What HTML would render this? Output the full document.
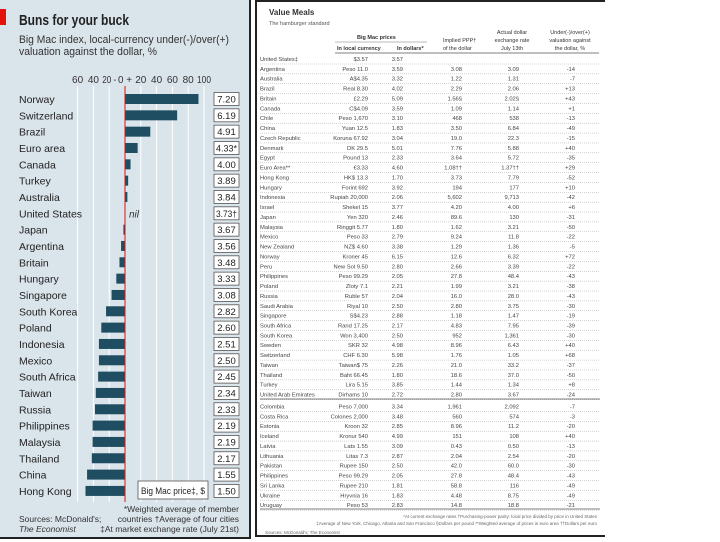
<!DOCTYPE html>
<html><head><meta charset="utf-8">
<style>
body{margin:0;width:720px;height:540px;background:#fff;position:relative;overflow:hidden;font-family:"Liberation Sans",sans-serif}
#left{position:absolute;left:0;top:0;width:249px;height:537px;background:#dae4eb;border-right:2px solid #222;border-bottom:2px solid #222}
#right{position:absolute;left:255px;top:0;width:350px;height:537px;background:#fff;border-left:2px solid #222;border-top:2px solid #222;border-bottom:2px solid #222;box-sizing:border-box}
</style></head><body>
<div id="left">
<svg id="chart" width="249" height="537">
<rect x="0" y="9" width="6" height="16" fill="#e3120b"/>
<text x="19" y="25" font-size="15" font-weight="bold" fill="#222" textLength="110" lengthAdjust="spacingAndGlyphs">Buns for your buck</text>
<text x="19" y="43" font-size="11" fill="#333" textLength="210" lengthAdjust="spacingAndGlyphs">Big Mac index, local-currency under(-)/over(+)</text>
<text x="19" y="55" font-size="11" fill="#333" textLength="138" lengthAdjust="spacingAndGlyphs">valuation against the dollar, %</text>
<g id="grid"></g><g id="bars"></g>
<g>
<rect x="138" y="481" width="70" height="18" fill="#fff" stroke="#555" stroke-width="0.8"/>
<text x="141" y="494" font-size="9.5" fill="#222" textLength="64" lengthAdjust="spacingAndGlyphs">Big Mac price‡, $</text>
</g>
<text x="239" y="512" font-size="8.5" fill="#333" text-anchor="end">*Weighted average of member</text>
<text x="239" y="522" font-size="8.5" fill="#333" text-anchor="end">countries  †Average of four cities</text>
<text x="239" y="532" font-size="8.5" fill="#333" text-anchor="end">‡At market exchange rate (July 21st)</text>
<text x="19" y="522" font-size="8.5" fill="#333">Sources: McDonald's;</text>
<text x="19" y="532" font-size="8.5" fill="#333" font-style="italic">The Economist</text>
</svg>
</div>
<div id="right">
<svg id="tbl" width="348" height="535">
<text x="12" y="13" font-size="8" font-weight="bold" fill="#333">Value Meals</text>
<text x="12" y="23" font-size="5.5" fill="#555">The hamburger standard</text>
<text x="100" y="37" font-size="5.5" fill="#333" font-weight="bold">Big Mac prices</text>
<line x1="78" y1="40" x2="170" y2="40" stroke="#777" stroke-width="0.5"/>
<text x="80" y="48" font-size="5.5" fill="#333" font-weight="bold">In local currency</text>
<text x="140" y="48" font-size="5.5" fill="#333" font-weight="bold">In dollars*</text>
<text x="186" y="40" font-size="5.5" fill="#333">Implied PPP†</text>
<text x="186" y="48" font-size="5.5" fill="#333">of the dollar</text>
<text x="255" y="32" font-size="5.5" fill="#333" text-anchor="middle">Actual dollar</text>
<text x="255" y="40" font-size="5.5" fill="#333" text-anchor="middle">exchange rate</text>
<text x="255" y="48" font-size="5.5" fill="#333" text-anchor="middle">July 13th</text>
<text x="313" y="32" font-size="5.5" fill="#333" text-anchor="middle">Under(-)/over(+)</text>
<text x="313" y="40" font-size="5.5" fill="#333" text-anchor="middle">valuation against</text>
<text x="313" y="48" font-size="5.5" fill="#333" text-anchor="middle">the dollar, %</text>
<line x1="78" y1="51" x2="342" y2="51" stroke="#555" stroke-width="0.8"/>
<g id="rows"></g>
<text x="340" y="516" font-size="4.5" fill="#666" text-anchor="end">*At current exchange rates  †Purchasing-power parity: local price divided by price in United States</text>
<text x="340" y="523" font-size="4.5" fill="#666" text-anchor="end">‡Average of New York, Chicago, Atlanta and San Francisco  §Dollars per pound  **Weighted average of prices in euro area  ††Dollars per euro</text>
<text x="8" y="532" font-size="4.5" fill="#666">Sources: McDonald's; The Economist</text>
</svg>
</div>
<script>
const countries=["Norway","Switzerland","Brazil","Euro area","Canada","Turkey","Australia","United States","Japan","Argentina","Britain","Hungary","Singapore","South Korea","Poland","Indonesia","Mexico","South Africa","Taiwan","Russia","Philippines","Malaysia","Thailand","China","Hong Kong"];
const valuation=[93,66,32,16,7,4,3,0,-2,-5,-7,-11,-17,-24,-30,-33,-33,-34,-37,-38,-41,-41,-42,-48,-50];
const prices=["7.20","6.19","4.91","4.33*","4.00","3.89","3.84","3.73†","3.67","3.56","3.48","3.33","3.08","2.82","2.60","2.51","2.50","2.45","2.34","2.33","2.19","2.19","2.17","1.55","1.50"];
const ticks=[-60,-40,-20,0,20,40,60,80,100];
const tickLabels=["60","40","20 -","0 +","20","40","60","80","100"];
const NS="http://www.w3.org/2000/svg";
function xs(v){return 125+v*0.79;}
function ys(i){return 99+i*16.33;}
function mk(tag,attrs,parent){const e=document.createElementNS(NS,tag);for(const k in attrs)e.setAttribute(k,attrs[k]);parent.appendChild(e);return e;}
const grid=document.getElementById('grid'),bars=document.getElementById('bars');
ticks.forEach((t,i)=>{
 if(t!==0){const l=mk('line',{x1:xs(t),x2:xs(t),y1:86,y2:502,stroke:'#fff','stroke-width':1},grid);
 
 }
 const attrs={x:xs(t),y:83,'font-size':10,fill:'#333','text-anchor':'middle'};
 if(tickLabels[i].length>2){attrs.textLength=tickLabels[i].length>3?14:14;attrs.lengthAdjust='spacingAndGlyphs';}
 const tx=mk('text',attrs,grid);
 tx.textContent=tickLabels[i];
 
 
});
countries.forEach((c,i)=>{
 const y=ys(i);
 const lab=mk('text',{x:19,y:y+4,'font-size':10.5,fill:'#222'},bars);lab.textContent=c;
 
 
 const v=valuation[i];
 if(v!==0){const r=mk('rect',{x:Math.min(xs(0),xs(v)),y:y-5,width:Math.abs(xs(v)-xs(0)),height:10,fill:'#1f4d62'},bars);
 
 }
 else{const n=mk('text',{x:xs(0)+4,y:y+4,'font-size':10,'font-style':'italic',fill:'#333'},bars);n.textContent='nil';
 
 }
 const b=mk('rect',{x:214,y:y-6.5,width:25,height:13,fill:'#fff',stroke:'#555','stroke-width':0.8},bars);
 
 
 const pa={x:226.5,y:y+3.5,'font-size':9.5,fill:'#222','text-anchor':'middle'};
 if(prices[i].length>4){pa.textLength=21;pa.lengthAdjust='spacingAndGlyphs';}
 const p=mk('text',pa,bars);p.textContent=prices[i];
 
 
});
const zl=mk('line',{x1:xs(0),x2:xs(0),y1:86,y2:502,stroke:'#e3120b','stroke-width':1},bars);



const tCountries=["United States‡","Argentina","Australia","Brazil","Britain","Canada","Chile","China","Czech Republic","Denmark","Egypt","Euro Area**","Hong Kong","Hungary","Indonesia","Israel","Japan","Malaysia","Mexico","New Zealand","Norway","Peru","Philippines","Poland","Russia","Saudi Arabia","Singapore","South Africa","South Korea","Sweden","Switzerland","Taiwan","Thailand","Turkey","United Arab Emirates","Colombia","Costa Rica","Estonia","Iceland","Latvia","Lithuania","Pakistan","Philippines","Sri Lanka","Ukraine","Uruguay"];
const tLocal=["$3.57","Peso 11.0","A$4.35","Real 8.30","£2.29","C$4.09","Peso 1,670","Yuan 12.5","Koruna 67.92","DK 29.5","Pound 13","€3.33","HK$ 13.3","Forint 692","Rupiah 20,000","Shekel 15","Yen 320","Ringgit 5.77","Peso 33","NZ$ 4.60","Kroner 45","New Sol 9.50","Peso 99.29","Zloty 7.1","Ruble 57","Riyal 10","S$4.23","Rand 17.25","Won 3,400","SKR 32","CHF 6.30","Taiwan$ 75","Baht 66.45","Lira 5.15","Dirhams 10","Peso 7,000","Colones 2,000","Kroon 32","Kronur 540","Lats 1.55","Litas 7.3","Rupee 150","Peso 99.29","Rupee 210","Hryvnia 16","Peso 53"];
const tDollars=["3.57","3.59","3.32","4.02","5.09","3.59","3.10","1.83","3.04","5.01","2.33","4.60","1.70","3.92","2.06","3.77","2.46","1.80","2.79","3.38","6.15","2.80","2.05","2.21","2.04","2.50","2.88","2.17","2.50","4.98","5.98","2.26","1.80","3.85","2.72","3.34","3.48","2.85","4.99","3.09","2.87","2.50","2.05","1.81","1.83","2.83"];
const tPPP=["","3.08","1.22","2.29","1.56§","1.09","468","3.50","19.0","7.76","3.64","1.08††","3.73","194","5,602","4.20","89.6","1.62","9.24","1.29","12.6","2.66","27.8","1.99","16.0","2.80","1.18","4.83","952","8.96","1.76","21.0","18.6","1.44","2.80","1,961","560","8.96","151","0.43","2.04","42.0","27.8","58.8","4.48","14.8"];
const tActual=["","3.09","1.31","2.06","2.02§","1.14","538","6.84","22.3","5.88","5.72","1.37††","7.79","177","9,713","4.00","130","3.21","11.8","1.36","6.32","3.39","48.4","3.21","28.0","3.75","1.47","7.95","1,361","6.43","1.05","33.2","37.0","1.34","3.67","2,092","574","11.2","108","0.50","2.54","60.0","48.4","116","8.75","18.8"];
const tVal=["","-14","-7","+13","+43","+1","-13","-49","-15","+40","-35","+29","-52","+10","-42","+6","-31","-50","-22","-5","+72","-22","-43","-38","-43","-30","-19","-39","-30","+40","+68","-37","-50","+8","-24","-7","-3","-20","+40","-13","-20","-30","-43","-49","-49","-21"];
const rows=document.getElementById('rows');
tCountries.forEach((c,i)=>{
 const y=57+i*9.87+(i>=35?2:0);
 const cells=[[3,c,'start'],[111,tLocal[i],'end'],[146,tDollars[i],'end'],[205,tPPP[i],'end'],[262,tActual[i],'end'],[318,tVal[i],'end']];
 cells.forEach(([x,t,a],k)=>{const e=mk('text',{x:x,y:y+2,'font-size':5.8,fill:'#444','text-anchor':a},rows);e.textContent=t;
 
 });
 const l=mk('line',{x1:3,x2:343,y1:y+5,y2:y+5,stroke:'#aaa','stroke-width':0.5,'stroke-dasharray':'1,1'},rows);
 
 
});
const sep=mk('line',{x1:3,x2:343,y1:397,y2:397,stroke:'#555','stroke-width':0.8},rows);


const endl=mk('line',{x1:3,x2:343,y1:507,y2:507,stroke:'#555','stroke-width':0.8},rows);


</script>
</body></html>
